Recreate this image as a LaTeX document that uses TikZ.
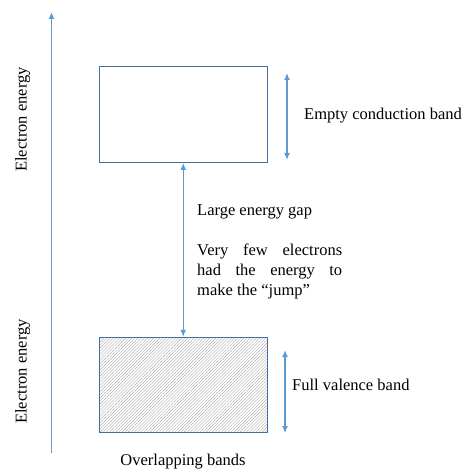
\documentclass[tikz,border=0pt]{standalone}
\usepackage{fontspec}
\setmainfont{Liberation Serif}
\usetikzlibrary{arrows.meta,patterns.meta}
\definecolor{axisblue}{HTML}{5B9BD5}
\definecolor{boxblue}{HTML}{41719C}
\definecolor{hatchgray}{HTML}{ABABAB}
\begin{document}
\begin{tikzpicture}[x=1pt,y=-1pt,
  font=\fontsize{16.5}{20}\selectfont,
  arr/.style={draw=axisblue, line width=1.3pt,
    {Latex[length=7pt,width=6pt]}-{Latex[length=7pt,width=6pt]}},
  axisline/.style={draw=axisblue, line width=1.3pt, -{Latex[length=7pt,width=6pt]}},
  band/.style={draw=boxblue, line width=0.9pt, inner sep=0pt, minimum width=167.5pt},
  lbl/.style={inner sep=0pt, text=black}]
\useasboundingbox (0,0) rectangle (465,470);
% bands
\node[band, minimum height=96.5pt, fill=white] (cb) at (183.25,114.25) {};
\node[band, minimum height=95.5pt,
  pattern={Lines[angle=45,distance=2.2pt,line width=0.4pt]}, pattern color=hatchgray] (vb) at (183.25,384.75) {};
\node[band, minimum height=95.5pt] (vbb) at (183.25,384.75) {};
% axis
\coordinate (ax0) at (51.5,453);
\coordinate (ax1) at (51.5,12);
\draw[axisline] (ax0) -- (ax1);
% gap arrow
\draw[arr] (cb.south) -- (vb.north);
% band height arrows
\coordinate (c1) at (287,73);
\coordinate (c2) at (287,160);
\draw[arr] (c1) -- (c2);
\coordinate (v1) at (285,350);
\coordinate (v2) at (285,433);
\draw[arr] (v1) -- (v2);
% labels
\node[lbl, rotate=90, anchor=base] (ee1) at (26.5,119.5) {Electron energy};
\node[lbl, rotate=90, anchor=base] (ee2) at (26.5,371.5) {Electron energy};
\node[lbl, anchor=base west] (ecb) at (304,120) {Empty conduction band};
\node[lbl, anchor=base west] (fvb) at (292,390) {Full valence band};
\node[lbl, anchor=base west] (leg) at (197,215) {Large energy gap};
\node[lbl, anchor=base west] (p1) at (197,255) {\makebox[145pt][s]{Very few electrons}};
\node[lbl, anchor=base west] (p2) at (197,275) {\makebox[145pt][s]{had the energy to}};
\node[lbl, anchor=base west] (p3) at (197,295) {make the “jump”};
\node[lbl, anchor=base] (ob) at (183,465) {Overlapping bands};
\end{tikzpicture}
\end{document}
